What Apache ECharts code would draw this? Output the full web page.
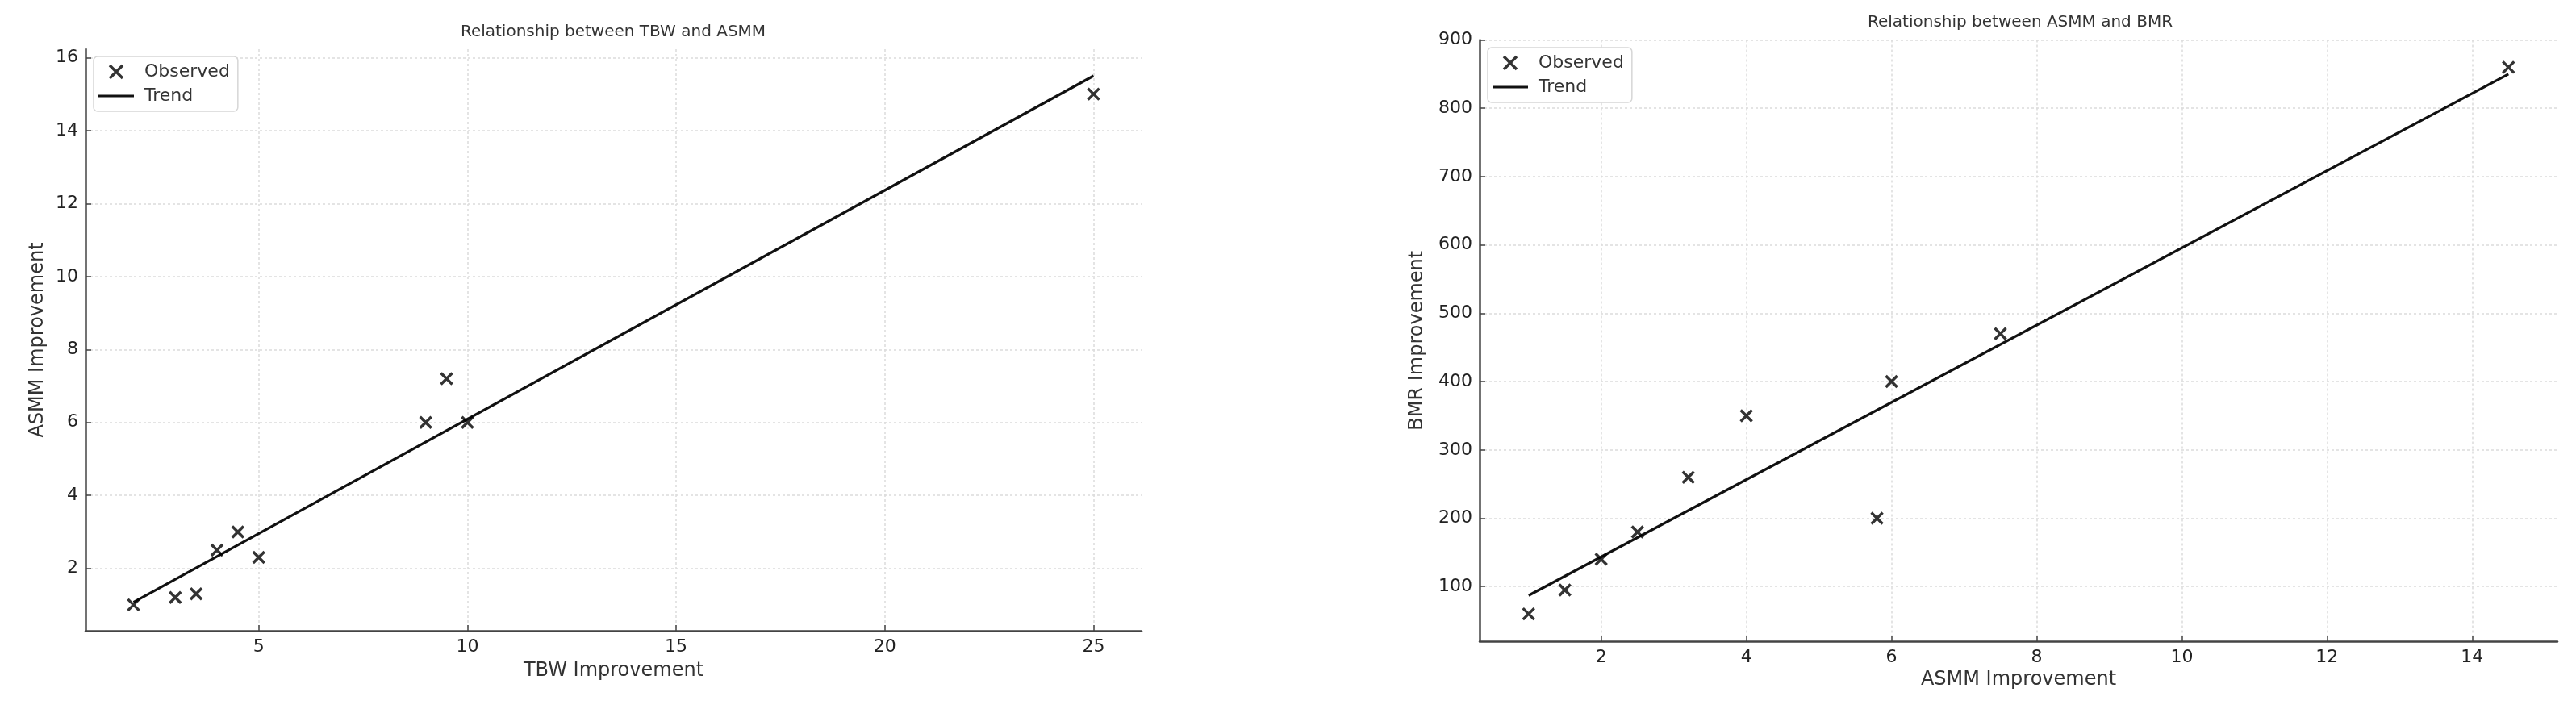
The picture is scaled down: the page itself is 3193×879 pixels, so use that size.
<!DOCTYPE html>
<html>
<head>
<meta charset="utf-8">
<script src="https://cdn.jsdelivr.net/npm/echarts@6/dist/echarts.min.js"></script>
<style>
  html, body { margin: 0; padding: 0; background: #fff; }
  #chart { width: 3193px; height: 879px; }
</style>
</head>
<body>
<div id="chart"></div>
<script>
// left panel: TBW vs ASMM
const tbwX = [2, 3, 3.5, 4, 4.5, 5, 9, 9.5, 10, 25]
const asmmY = [1, 1.2, 1.3, 2.5, 3, 2.3, 6, 7.2, 6, 15]
const trendLeftX = [2, 25]
const trendLeftY = [1.07, 15.5]
const leftXTicks = [5, 10, 15, 20, 25]
const leftYTicks = [2, 4, 6, 8, 10, 12, 14, 16]

// right panel: ASMM vs BMR
const asmmX = [1, 1.5, 2, 2.5, 3.2, 4, 5.8, 6, 7.5, 14.5]
const bmrY = [60, 95, 140, 180, 260, 350, 200, 400, 470, 860]
const trendRightX = [1, 14.5]
const trendRightY = [87, 850]
const rightXTicks = [2, 4, 6, 8, 10, 12, 14]
const rightYTicks = [100, 200, 300, 400, 500, 600, 700, 800, 900]

const FONT = 'DejaVu Sans'
const CROSS = 'path://M0,0L10,10M10,0L0,10'
const BAR = 'path://M0,0H44V3.2H0Z'

const zip = (xs, ys) => xs.map((x, i) => [x, ys[i]])

function valueAxis(gridIndex, min, max, ticks, name, nameGap, isY) {
  return {
    type: 'value',
    gridIndex,
    min,
    max,
    name,
    nameLocation: 'middle',
    nameGap,
    nameRotate: isY ? 90 : 0,
    nameTextStyle: { fontFamily: FONT, fontSize: 24, color: '#333' },
    axisLine: { show: true, lineStyle: { color: '#444', width: 2.5 } },
    axisTick: {
      show: true,
      inside: true,
      length: 7,
      customValues: ticks,
      lineStyle: { color: '#444', width: 1.5 }
    },
    axisLabel: {
      customValues: ticks,
      margin: 9,
      fontFamily: FONT,
      fontSize: 22,
      color: '#222'
    },
    splitLine: {
      show: true,
      lineStyle: { color: '#dcdcdc', width: 1.5, type: [3, 3] }
    }
  }
}

function legend(left, top) {
  return {
    orient: 'vertical',
    left,
    top,
    itemWidth: 44,
    itemHeight: 16,
    itemGap: 8,
    padding: [8, 10, 8, 6],
    borderColor: '#d6d6d6',
    borderWidth: 1.5,
    borderRadius: 5,
    backgroundColor: '#fff',
    textStyle: { fontFamily: FONT, fontSize: 22, color: '#333', padding: [0, 0, 0, 8] },
    data: [
      {
        name: 'Observed',
        icon: CROSS,
        itemStyle: { color: 'transparent', borderColor: '#000', borderWidth: 3.5 }
      },
      {
        name: 'Trend',
        icon: BAR,
        itemStyle: { color: '#111', borderWidth: 0 }
      }
    ]
  }
}

function scatter(idx, data) {
  return {
    name: 'Observed',
    type: 'scatter',
    xAxisIndex: idx,
    yAxisIndex: idx,
    symbol: CROSS,
    symbolSize: 14,
    itemStyle: { color: '#000', borderColor: '#000', borderWidth: 3.5 },
    data,
    z: 3
  }
}

function trend(idx, data) {
  return {
    name: 'Trend',
    type: 'line',
    xAxisIndex: idx,
    yAxisIndex: idx,
    symbol: 'none',
    showSymbol: false,
    lineStyle: { color: '#111', width: 3.2 },
    itemStyle: { color: '#111' },
    data,
    z: 2
  }
}

const chart = echarts.init(document.getElementById('chart'), null, { renderer: 'canvas' })
chart.setOption({
  animation: false,
  backgroundColor: '#fff',
  title: [
    {
      text: 'Relationship between TBW and ASMM',
      left: 760,
      top: 30,
      textAlign: 'center',
      padding: 0,
      textStyle: { fontFamily: FONT, fontSize: 20, fontWeight: 'normal', color: '#333' }
    },
    {
      text: 'Relationship between ASMM and BMR',
      left: 2504,
      top: 18,
      textAlign: 'center',
      padding: 0,
      textStyle: { fontFamily: FONT, fontSize: 20, fontWeight: 'normal', color: '#333' }
    }
  ],
  legend: [legend(116, 70), legend(1844, 59)],
  grid: [
    { left: 106, top: 61, width: 1309, height: 721, containLabel: false },
    { left: 1834, top: 49.5, width: 1336, height: 745.5, containLabel: false }
  ],
  xAxis: [
    valueAxis(0, 0.85, 26.15, leftXTicks, 'TBW Improvement', 38, false),
    valueAxis(1, 0.325, 15.175, rightXTicks, 'ASMM Improvement', 36, false)
  ],
  yAxis: [
    valueAxis(0, 0.29, 16.23, leftYTicks, 'ASMM Improvement', 47, true),
    valueAxis(1, 20, 900, rightYTicks, 'BMR Improvement', 65, true)
  ],
  series: [
    trend(0, zip(trendLeftX, trendLeftY)),
    scatter(0, zip(tbwX, asmmY)),
    trend(1, zip(trendRightX, trendRightY)),
    scatter(1, zip(asmmX, bmrY))
  ]
})
</script>
</body>
</html>
